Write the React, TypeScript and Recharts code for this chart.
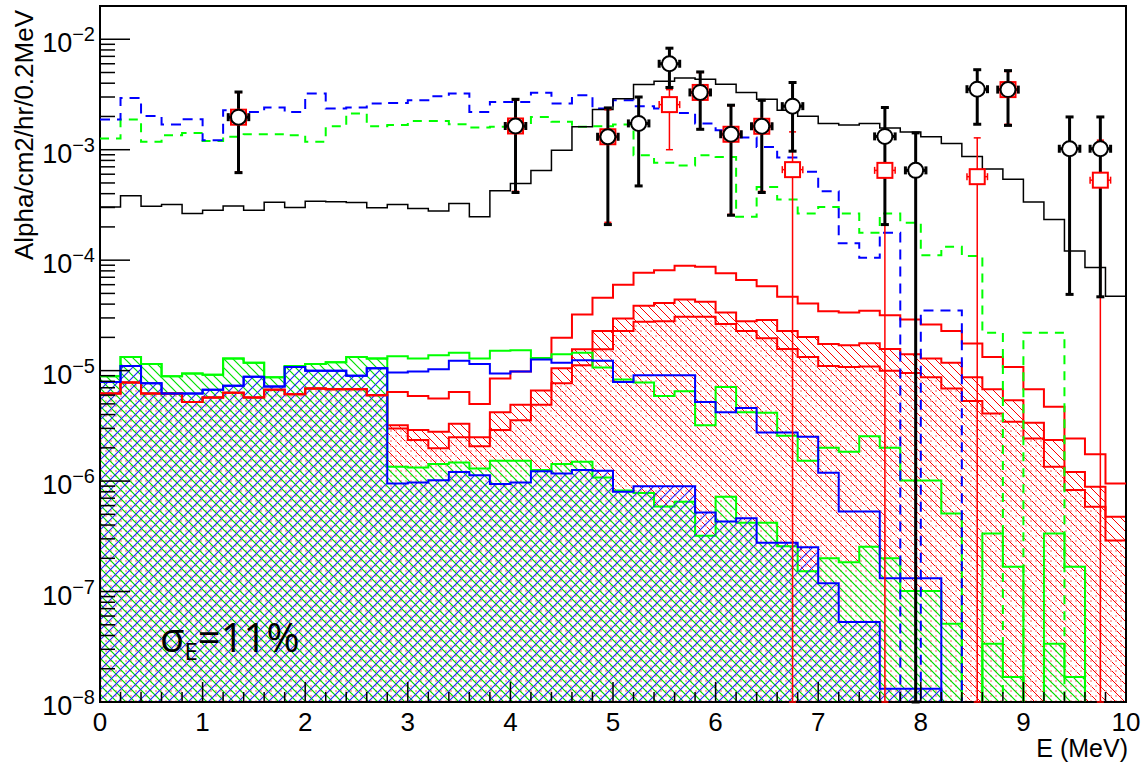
import React from 'react';
import {
  ComposedChart, Area, Line, Scatter, ErrorBar, XAxis, YAxis, ReferenceArea
} from 'recharts';

// 50 bins of 0.2 MeV between 0 and 10 MeV, values in Alpha/cm2/hr/0.2MeV

const blackModel = [
  3.03e-4, 3.82e-4, 3.07e-4, 3.19e-4, 2.65e-4, 2.83e-4, 3.1e-4, 2.83e-4, 3.35e-4, 3.0e-4, 3.42e-4, 3.38e-4, 3.33e-4, 2.98e-4,
  3.19e-4, 2.94e-4, 2.78e-4, 3.26e-4, 2.47e-4, 4.24e-4, 4.94e-4, 6.5e-4, 9.9e-4, 1.61e-3, 2.31e-3, 2.9e-3, 3.89e-3, 4.17e-3,
  4.47e-3, 4.35e-3, 3.92e-3, 3.3e-3, 2.86e-3, 2.28e-3, 2.01e-3, 1.73e-3, 1.67e-3, 1.73e-3, 1.57e-3, 1.45e-3, 1.31e-3, 1.14e-3,
  8.7e-4, 6.7e-4, 5.4e-4, 3.37e-4, 2.34e-4, 1.21e-4, 8.6e-5, 4.72e-5,
];

const blueDashed = [
  1.88e-3, 2.94e-3, 2.02e-3, 1.69e-3, 1.89e-3, 1.22e-3, 2.28e-3, 2.2e-3, 2.41e-3, 2.2e-3, 3.23e-3, 2.36e-3, 2.41e-3, 2.62e-3,
  2.65e-3, 2.81e-3, 3.05e-3, 3.23e-3, 2.2e-3, 2.71e-3, 2.71e-3, 3.27e-3, 2.62e-3, 3.11e-3, 2.36e-3, 2.81e-3, 2.48e-3, 2.36e-3,
  2.15e-3, 1.73e-3, 1.5e-3, 1.29e-3, 1.06e-3, 8.5e-4, 6.3e-4, 4.21e-4, 1.42e-4, 1.05e-4, 1.77e-4, 0, 3.5e-5, 3.5e-5,
  0, 0, 0, 0, 0, 0, 0, 0,
];

const greenDashed = [
  1.26e-3, 1.88e-3, 1.18e-3, 1.35e-3, 1.42e-3, 1.2e-3, 1.31e-3, 1.38e-3, 1.38e-3, 1.35e-3, 1.18e-3, 1.63e-3, 2.13e-3, 1.63e-3,
  1.67e-3, 1.82e-3, 1.82e-3, 1.7e-3, 1.59e-3, 1.61e-3, 1.61e-3, 1.98e-3, 1.79e-3, 1.61e-3, 1.63e-3, 1.69e-3, 8.9e-4, 7.6e-4,
  7.2e-4, 8.9e-4, 8.6e-4, 2.47e-4, 4.6e-4, 3.54e-4, 2.65e-4, 3.03e-4, 2.65e-4, 1.77e-4, 2.65e-4, 2.18e-4, 1.11e-4, 1.32e-4,
  1.09e-4, 2.2e-5, 0, 2.2e-5, 2.2e-5, 0, 0, 0,
];

// below 2.8 MeV the upper and filled components coincide
const greenBelow28 = [8.9e-6, 1.33e-5, 1.15e-5, 8.9e-6, 9.4e-6, 9.2e-6, 1.29e-5, 1.18e-5, 8.7e-6, 1.1e-5, 1.15e-5, 1.19e-5, 1.33e-5, 1.29e-5];
const greenUpper = [
  ...greenBelow28,
  1.35e-5, 1.29e-5, 1.38e-5, 1.45e-5, 1.29e-5, 1.51e-5, 1.53e-5, 1.3e-5, 1.41e-5, 1.45e-5, 1.07e-5, 8.3e-6, 7.8e-6, 5.9e-6, 6.5e-6, 3.2e-6, 7.1e-6, 4.2e-6,
  4.15e-6, 2.57e-6, 1.53e-6, 2.0e-6, 1.84e-6, 2.55e-6, 2.0e-6, 1.01e-6, 1.01e-6, 5.1e-7, 0, 3.36e-7, 1.68e-7, 0, 3.36e-7, 1.68e-7, 0, 0,
];
const greenFilled = [
  ...greenBelow28,
  1.35e-6, 1.33e-6, 1.43e-6, 1.47e-6, 1.3e-6, 1.53e-6, 1.53e-6, 1.26e-6, 1.43e-6, 1.5e-6, 1.08e-6, 8.2e-7, 7.8e-7, 5.9e-7, 6.5e-7, 3.2e-7, 7.2e-7, 4.2e-7,
  4.2e-7, 2.57e-7, 1.53e-7, 2.0e-7, 1.84e-7, 2.55e-7, 2.0e-7, 1.01e-7, 1.01e-7, 5.1e-8, 0, 3.36e-8, 1.68e-8, 0, 3.36e-8, 1.68e-8, 0, 0,
];

const blueBelow28 = [7.9e-6, 1.1e-5, 7.7e-6, 6.2e-6, 6.2e-6, 6.7e-6, 7.3e-6, 8.8e-6, 7.2e-6, 1.08e-5, 1.0e-5, 1.0e-5, 9.0e-6, 1.05e-5];
const blueUpper = [
  ...blueBelow28,
  9.6e-6, 9.8e-6, 1.03e-5, 1.23e-5, 1.15e-5, 9.4e-6, 9.8e-6, 1.26e-5, 1.18e-5, 1.24e-5, 1.23e-5, 7.9e-6, 9.1e-6, 9.1e-6, 9.1e-6, 5.2e-6, 4.2e-6, 4.6e-6,
  2.76e-6, 2.76e-6, 2.52e-6, 1.19e-6, 5.3e-7, 5.3e-7, 1.32e-7, 1.32e-7, 1.32e-7, 0, 0, 0, 0, 0, 0, 0, 0, 0,
];
const blueFilled = [
  ...blueBelow28,
  9.5e-7, 9.7e-7, 1.02e-6, 1.21e-6, 1.13e-6, 9.4e-7, 9.7e-7, 1.23e-6, 1.17e-6, 1.26e-6, 1.24e-6, 8.0e-7, 9.0e-7, 9.0e-7, 9.0e-7, 5.2e-7, 4.3e-7, 4.6e-7,
  2.76e-7, 2.76e-7, 2.52e-7, 1.19e-7, 5.3e-8, 5.3e-8, 1.32e-8, 1.32e-8, 1.32e-8, 0, 0, 0, 0, 0, 0, 0, 0, 0,
];

const redBelow28 = [6.2e-6, 7.8e-6, 6.2e-6, 6.2e-6, 5.2e-6, 5.7e-6, 6.3e-6, 5.7e-6, 6.7e-6, 6.1e-6, 6.9e-6, 6.8e-6, 6.8e-6, 6.0e-6];
const redOpen = [
  ...redBelow28,
  6.4e-6, 5.9e-6, 5.6e-6, 6.4e-6, 5.0e-6, 8.5e-6, 9.8e-6, 1.29e-5, 1.98e-5, 3.23e-5, 4.56e-5, 6.0e-5, 7.7e-5, 8.1e-5, 8.9e-5, 8.7e-5, 7.6e-5, 6.6e-5,
  5.8e-5, 4.66e-5, 4.06e-5, 3.45e-5, 3.36e-5, 3.48e-5, 3.18e-5, 2.9e-5, 2.62e-5, 2.28e-5, 1.76e-5, 1.33e-5, 1.08e-5, 6.8e-6, 4.7e-6, 2.43e-6, 1.75e-6, 9.5e-7,
];
const redHatched = [
  ...redBelow28,
  3.2e-6, 2.9e-6, 2.8e-6, 3.3e-6, 2.5e-6, 4.2e-6, 4.9e-6, 6.6e-6, 1.05e-5, 1.56e-5, 2.28e-5, 2.97e-5, 3.86e-5, 4.1e-5, 4.41e-5, 4.2e-5, 3.36e-5, 2.8e-5,
  2.87e-5, 2.29e-5, 2.02e-5, 1.74e-5, 1.7e-5, 1.77e-5, 1.57e-5, 1.41e-5, 1.29e-5, 1.18e-5, 8.7e-6, 6.8e-6, 5.4e-6, 3.37e-6, 2.35e-6, 1.21e-6, 8.9e-7, 4.75e-7,
];
const redDotted = [
  ...redBelow28,
  3.0e-6, 2.35e-6, 1.98e-6, 2.5e-6, 2.07e-6, 2.9e-6, 3.56e-6, 4.9e-6, 7.7e-6, 1.12e-5, 1.56e-5, 2.28e-5, 2.77e-5, 2.8e-5, 3.07e-5, 3.07e-5, 2.64e-5, 2.28e-5,
  1.96e-5, 1.57e-5, 1.33e-5, 1.1e-5, 1.08e-5, 1.09e-5, 1.0e-5, 9.5e-6, 8.7e-6, 6.9e-6, 5.3e-6, 4.1e-6, 3.44e-6, 2.43e-6, 1.35e-6, 8.3e-7, 5.85e-7, 2.9e-7,
];

// measured points (1e-8 as low edge = bar runs to the bottom of the frame)
const blackE = [1.35, 4.05, 4.95, 5.25, 5.55, 5.85, 6.15, 6.45, 6.75, 7.65, 7.95, 8.55, 8.85, 9.45, 9.75];
const blackY = [1.97e-3, 1.64e-3, 1.31e-3, 1.73e-3, 6.0e-3, 3.3e-3, 1.38e-3, 1.63e-3, 2.48e-3, 1.32e-3, 6.5e-4, 3.53e-3, 3.5e-3, 1.02e-3, 1.02e-3];
const blackHi = [3.33e-3, 2.86e-3, 2.39e-3, 3.0e-3, 8.3e-3, 5.06e-3, 2.53e-3, 2.8e-3, 4.06e-3, 2.41e-3, 1.42e-3, 5.3e-3, 5.2e-3, 1.98e-3, 1.98e-3];
const blackLo = [6.2e-4, 4.1e-4, 2.1e-4, 4.7e-4, 3.66e-3, 1.53e-3, 2.55e-4, 4.1e-4, 9.7e-4, 2.1e-4, 1e-8, 1.7e-3, 1.66e-3, 4.9e-5, 4.66e-5];

const redE = [1.35, 4.05, 4.95, 5.55, 5.85, 6.15, 6.45, 6.75, 7.65, 8.55, 8.85, 9.75];
const redY = [1.97e-3, 1.64e-3, 1.31e-3, 2.56e-3, 3.3e-3, 1.38e-3, 1.63e-3, 6.6e-4, 6.5e-4, 5.7e-4, 3.5e-3, 5.3e-4];
const redHi = [3.3e-3, 2.8e-3, 2.3e-3, 3.5e-3, 5.0e-3, 2.5e-3, 2.8e-3, 1.45e-3, 1.42e-3, 1.28e-3, 5.1e-3, 1.22e-3];
const redLo = [6.3e-4, 4.2e-4, 2.2e-4, 1.0e-3, 1.55e-3, 2.6e-4, 4.2e-4, 1e-8, 1e-8, 1e-8, 1.7e-3, 1e-8];

const xTicks = Array.from({ length: 51 }, (_, i) => Math.round(i * 2) / 10);
const yTicks: number[] = [];
for (let e = -8; e <= -2; e++) {
  for (let m = 1; m <= 9; m++) {
    const v = m * Math.pow(10, e);
    if (v <= 0.02) yTicks.push(v);
  }
}

const HIDDEN = 1e-10; // empty bin, drawn below the frame and clipped

const histRows = Array.from({ length: 51 }, (_, i) => {
  const b = Math.min(i, 49);
  const v = (arr: number[]) => (arr[b] > 0 ? arr[b] : HIDDEN);
  return {
    x: Number((i * 0.2).toFixed(1)),
    black: v(blackModel),
    blueDash: v(blueDashed),
    greenDash: v(greenDashed),
    greenUp: v(greenUpper),
    greenFill: v(greenFilled),
    blueUp: v(blueUpper),
    blueFill: v(blueFilled),
    redA: v(redOpen),
    redB: v(redHatched),
    redC: v(redDotted),
  };
});

const blackPts = blackE.map((e, i) => ({
  x: e, y: blackY[i], ey: [blackY[i] - blackLo[i], blackHi[i] - blackY[i]], ex: 0.1,
}));
const redPts = redE.map((e, i) => ({
  x: e, y: redY[i], ey: [redY[i] - redLo[i], redHi[i] - redY[i]], ex: 0.1,
}));

const FONT = '"Liberation Sans", Arial, Helvetica, sans-serif';
const GREEN = '#00ff00';

const XTick = (props: any) => {
  const { x, y, payload } = props;
  const v = payload.value;
  const major = Math.abs(v - Math.round(v)) < 1e-6;
  return (
    <g>
      <line x1={x} x2={x} y1={y} y2={y - (major ? 20 : 10)} stroke="#000" strokeWidth={1.5} />
      {major && (
        <text x={x} y={y + 29} textAnchor="middle" fontFamily={FONT} fontSize={26} fill="#000">
          {Math.round(v)}
        </text>
      )}
    </g>
  );
};

const YTick = (props: any) => {
  const { x, y, payload } = props;
  const v = payload.value;
  const lg = Math.log10(v);
  const exp = Math.round(lg);
  const major = Math.abs(lg - exp) < 1e-6;
  return (
    <g>
      <line x1={x} x2={x + (major ? 30 : 15)} y1={y} y2={y} stroke="#000" strokeWidth={1.5} />
      {major && (
        <text x={x - 5} y={y + 13} textAnchor="end" fontFamily={FONT} fontSize={27} fill="#000">
          10<tspan dy={-11} fontSize={20}>{'\u2212' + Math.abs(exp)}</tspan>
        </text>
      )}
    </g>
  );
};

const Circle = (p: any) => (
  <circle cx={p.cx} cy={p.cy} r={7.5} fill="#fff" stroke="#000" strokeWidth={2} />
);
const Square = (p: any) => (
  <rect x={p.cx - 7.5} y={p.cy - 7.5} width={15} height={15} fill="#fff" stroke="#ff0000" strokeWidth={2} />
);

export default function App() {
  return (
    <div style={{ position: 'absolute', left: 0, top: 0, width: 1142, height: 764, background: '#fff' }}>
      <svg width={0} height={0} style={{ position: 'absolute' }}>
        <defs>
          <pattern id="hatchRed" patternUnits="userSpaceOnUse" width={9} height={9}>
            <path d="M0,0 L9,9 M-2,7 L2,11 M7,-2 L11,2" stroke="#ff0000" strokeWidth={1} />
          </pattern>
          <pattern id="dotsRed" patternUnits="userSpaceOnUse" width={5} height={5}>
            <rect x={0} y={0} width={2} height={2} fill="#ffb0b0" />
          </pattern>
          <pattern id="hatchGreen" patternUnits="userSpaceOnUse" width={9} height={9}>
            <path d="M0,0 L9,9 M-2,7 L2,11 M7,-2 L11,2" stroke="#00e000" strokeWidth={1.2} />
          </pattern>
          <pattern id="hatchBlue" patternUnits="userSpaceOnUse" width={10} height={10}>
            <path d="M0,10 L10,0 M-2,2 L2,-2 M8,12 L12,8" stroke="#2020ff" strokeWidth={1.1} />
          </pattern>
        </defs>
      </svg>
      <ComposedChart
        width={1142}
        height={764}
        data={histRows}
        margin={{ top: 6, right: 16, bottom: 0, left: 0 }}
      >
        <XAxis
          dataKey="x" type="number" domain={[0, 10]} allowDataOverflow
          ticks={xTicks} interval={0} tick={(p: any) => <XTick {...p} />}
          tickLine={false} axisLine={false} tickSize={0} tickMargin={0} height={62}
        />
        <YAxis
          type="number" scale="log" domain={[1e-8, 0.02]} allowDataOverflow
          ticks={yTicks} interval={0} tick={(p: any) => <YTick {...p} />}
          tickLine={false} axisLine={false} tickSize={0} tickMargin={0} width={100}
        />

        <Area dataKey="redB" type="stepAfter" baseValue={1e-8} stroke="#ff0000" strokeWidth={2}
          fill="url(#hatchRed)" fillOpacity={1} dot={false} activeDot={false} isAnimationActive={false} />
        <Area dataKey="redC" type="stepAfter" baseValue={1e-8} stroke="#ff0000" strokeWidth={2}
          fill="url(#dotsRed)" fillOpacity={1} dot={false} activeDot={false} isAnimationActive={false} />
        <Area dataKey="greenFill" type="stepAfter" baseValue={1e-8} stroke={GREEN} strokeWidth={2}
          fill="url(#hatchGreen)" fillOpacity={1} dot={false} activeDot={false} isAnimationActive={false} />
        <Area dataKey="blueFill" type="stepAfter" baseValue={1e-8} stroke="#0000ff" strokeWidth={2}
          fill="url(#hatchBlue)" fillOpacity={1} dot={false} activeDot={false} isAnimationActive={false} />

        <Line dataKey="redA" type="stepAfter" stroke="#ff0000" strokeWidth={2} dot={false} activeDot={false} isAnimationActive={false} />
        <Line dataKey="greenUp" type="stepAfter" stroke={GREEN} strokeWidth={2} dot={false} activeDot={false} isAnimationActive={false} />
        <Line dataKey="blueUp" type="stepAfter" stroke="#0000ff" strokeWidth={2} dot={false} activeDot={false} isAnimationActive={false} />
        <Line dataKey="greenDash" type="stepAfter" stroke={GREEN} strokeWidth={2} strokeDasharray="9 7"
          dot={false} activeDot={false} isAnimationActive={false} />
        <Line dataKey="blueDash" type="stepAfter" stroke="#0000ff" strokeWidth={2} strokeDasharray="10 7"
          dot={false} activeDot={false} isAnimationActive={false} />
        <Line dataKey="black" type="stepAfter" stroke="#000" strokeWidth={1.5} dot={false} activeDot={false} isAnimationActive={false} />

        <Scatter data={redPts} dataKey="y" shape={Square} isAnimationActive={false}>
          <ErrorBar dataKey="ey" direction="y" stroke="#ff0000" strokeWidth={1.5} width={3.5} />
          <ErrorBar dataKey="ex" direction="x" stroke="#ff0000" strokeWidth={1.5} width={3.5} />
        </Scatter>
        <Scatter data={blackPts} dataKey="y" shape={Circle} isAnimationActive={false}>
          <ErrorBar dataKey="ey" direction="y" stroke="#000" strokeWidth={3} width={4} />
          <ErrorBar dataKey="ex" direction="x" stroke="#000" strokeWidth={3} width={4} />
        </Scatter>

        <ReferenceArea x1={0} x2={10} y1={1e-8} y2={0.02} fill="none" stroke="#000" strokeWidth={2} ifOverflow="visible" />
      </ComposedChart>

      <svg width={1142} height={764} style={{ position: 'absolute', left: 0, top: 0, pointerEvents: 'none' }}>
        <text
          transform="translate(33,10) rotate(-90)"
          textAnchor="end" fontFamily={FONT} fontSize={26} fill="#000"
        >
          Alpha/cm2/hr/0.2MeV
        </text>
        <text x={1128} y={757} textAnchor="end" fontFamily={FONT} fontSize={25} fill="#000">
          E (MeV)
        </text>
        <text x={160} y={652} fontFamily="'Open Sans', Lato, sans-serif" fontSize={40} fill="#000">
          σ<tspan fontSize={24} dy={8}>E</tspan><tspan dy={-8}>=11%</tspan>
        </text>
      </svg>
    </div>
  );
}
